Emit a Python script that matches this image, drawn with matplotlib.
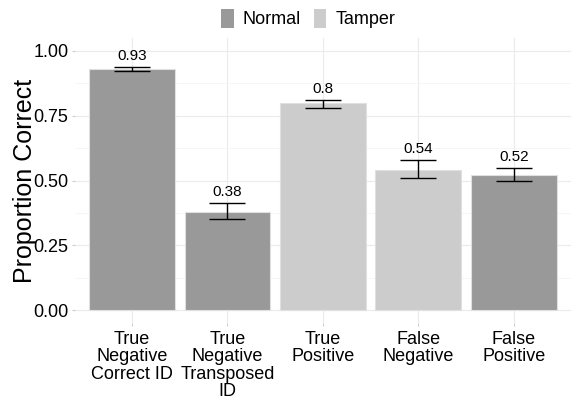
import matplotlib
matplotlib.use("Agg")
import matplotlib.pyplot as plt
from matplotlib.patches import Patch
import numpy as np

categories = ["True\nNegative\nCorrect ID", "True\nNegative\nTransposed\nID",
              "True\nPositive", "False\nNegative", "False\nPositive"]
values = [0.93, 0.38, 0.80, 0.54, 0.52]
lower = [0.923, 0.351, 0.781, 0.508, 0.497]
upper = [0.938, 0.412, 0.811, 0.578, 0.549]
labels = ["0.93", "0.38", "0.8", "0.54", "0.52"]
groups = ["Normal", "Normal", "Tamper", "Tamper", "Normal"]
colors = {"Normal": "#999999", "Tamper": "#cccccc"}

plt.rcParams['font.family'] = ['Liberation Sans', 'DejaVu Sans']

fig = plt.figure(figsize=(5.71, 4.0), dpi=100)
ax = fig.add_axes([0.131, 0.1925, 0.869, 0.7125])

x = np.arange(len(categories))
ax.bar(x, values, width=0.9, color=[colors[g] for g in groups],
       edgecolor="#e0e0e0", linewidth=0.8, zorder=2)
vals = np.array(values)
ax.errorbar(x, vals, yerr=[vals - np.array(lower), np.array(upper) - vals],
            fmt="none", ecolor="black", elinewidth=1.0, capsize=13, capthick=1.0, zorder=3)
for xi, up, lab in zip(x, upper, labels):
    ax.annotate(lab, (xi, up), xytext=(0, 3), textcoords="offset points",
                ha="center", va="bottom", fontsize=11, color="black")

ax.set_xlim(-0.6, 4.6)
ax.set_ylim(-0.05, 1.05)
ax.set_yticks([0, 0.25, 0.5, 0.75, 1.0])
ax.set_yticklabels(["0.00", "0.25", "0.50", "0.75", "1.00"])
ax.set_yticks([0.125, 0.375, 0.625, 0.875], minor=True)
ax.set_xticks(x)
ax.set_xticklabels(categories, fontsize=13, linespacing=1.04)
ax.tick_params(axis="y", labelsize=13, length=2.5, color="#cccccc", pad=2, which="major")
ax.tick_params(axis="y", which="minor", length=0)
ax.tick_params(axis="x", length=2.5, color="#cccccc", pad=3)
ax.grid(True, which="major", color="#ebebeb", linewidth=0.8, zorder=0)
ax.grid(True, which="minor", axis="y", color="#f3f3f3", linewidth=0.5, zorder=0)
ax.set_axisbelow(True)
for s in ax.spines.values():
    s.set_visible(False)
ax.set_ylabel("Proportion Correct", fontsize=18, labelpad=-2.5)

handles = [Patch(facecolor=colors["Normal"], edgecolor="none", label="Normal"),
           Patch(facecolor=colors["Tamper"], edgecolor="none", label="Tamper")]
fig.legend(handles=handles, loc="center", bbox_to_anchor=(0.54, 0.953), ncol=2,
           frameon=False, fontsize=13, handlelength=0.7, handleheight=1.2,
           handletextpad=0.5, columnspacing=0.7)

fig.savefig("out.png", dpi=100)
